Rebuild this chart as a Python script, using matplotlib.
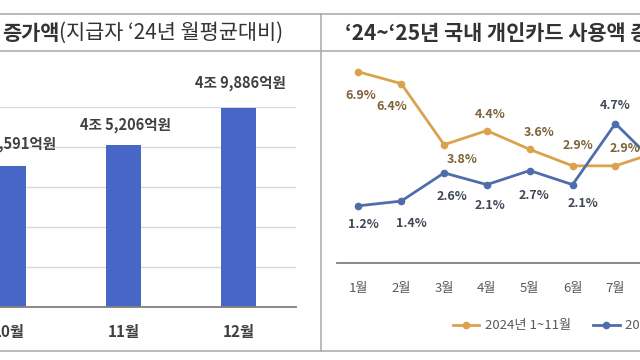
import matplotlib
matplotlib.use("Agg")
import matplotlib.pyplot as plt
from matplotlib.lines import Line2D

plt.rcParams["font.family"] = ["Noto Sans CJK KR", "DejaVu Sans"]

# left panel: card spending increase vs '24 monthly average (억원)
bar_months = ["10월", "11월", "12월"]
bar_values = [42591, 45206, 49886]
bar_labels = ["4조 2,591억원", "4조 5,206억원", "4조 9,886억원"]

# right panel: growth of domestic personal card spending (%)
line_months = ["1월", "2월", "3월", "4월", "5월", "6월", "7월", "8월"]
growth_2024 = [6.9, 6.4, 3.8, 4.4, 3.6, 2.9, 2.9, 3.5]
growth_2025 = [1.2, 1.4, 2.6, 2.1, 2.7, 2.1, 4.7, 2.9]
series_names = ["2024년 1~11월", "2025년 1~11월"]

W, H = 640, 360
BAR_C, ORANGE, BLUE = "#4766C6", "#DBA24E", "#4F6DAA"
BORDER, GRID, AXIS = "#A8A8A8", "#D9D9D9", "#7F7F7F"


def fx(px):
    return px / W


def fy(py):
    return 1 - py / H


def box(l, t, r, b):
    return [fx(l), fy(b), (r - l) / W, (b - t) / H]


fig = plt.figure(figsize=(W / 100, H / 100), dpi=100)
fig.patch.set_facecolor("white")

# panel frame lines
for y in (14, 51, 351):
    fig.add_artist(Line2D([0, 1], [fy(y), fy(y)], transform=fig.transFigure,
                          color=BORDER, lw=1.1))
fig.add_artist(Line2D([fx(321), fx(321)], [fy(14), fy(351)], transform=fig.transFigure,
                      color=BORDER, lw=1.1))

# ---------------------------------------------------------------- bar panel
ax = fig.add_axes(box(-49, 107, 296, 307))
xb = range(len(bar_values))
ax.bar(xb, bar_values, width=0.3, color=BAR_C, zorder=2)
ax.set_xlim(-0.5, 2.5)
ax.set_ylim(25000, 50000)
ax.set_yticks(range(30000, 50001, 5000))
ax.yaxis.grid(True, color=GRID, lw=1.0)
ax.set_axisbelow(True)
ax.tick_params(axis="y", length=0, labelleft=False)
ax.set_xticks(list(xb), bar_months)
ax.tick_params(axis="x", length=0, pad=12, labelsize=11, labelcolor="#404040")
for t in ax.get_xticklabels():
    t.set_fontweight("bold")
for s in ("top", "left", "right"):
    ax.spines[s].set_visible(False)
ax.spines["bottom"].set_color(AXIS)
ax.spines["bottom"].set_linewidth(1.3)
for i, (v, lab) in enumerate(zip(bar_values, bar_labels)):
    dy = (22, 20, 25)[i]
    ax.annotate(lab, (i, v), xytext=(2, dy), textcoords="offset pixels",
                ha="center", va="center", fontsize=10.5, weight="bold",
                color="#404040", annotation_clip=False)

t1 = fig.text(fx(2), fy(33), "증가액", fontsize=15, weight="bold",
              va="center", color="#333333")
fig.canvas.draw()
bb = t1.get_window_extent()
fig.text(bb.x1 / W, fy(33), "(지급자 ‘24년 월평균대비)", fontsize=15,
         va="center", color="#333333")

# --------------------------------------------------------------- line panel
ax2 = fig.add_axes(box(337, 55, 337 + 8 * 42.83, 263))
xm = range(1, len(line_months) + 1)
l24, = ax2.plot(xm, growth_2024, color=ORANGE, lw=2.0, marker="o", ms=4.5)
l25, = ax2.plot(xm, growth_2025, color=BLUE, lw=2.0, marker="o", ms=4.5)
ax2.set_xlim(0.5, len(line_months) + 0.5)
ax2.set_ylim((234 - 263) / 23.5, (234 - 55) / 23.5)
ax2.set_yticks([])
ax2.set_xticks(list(xm), line_months)
ax2.tick_params(axis="x", length=0, pad=14, labelsize=9.5, labelcolor="#595959")
for s in ("top", "left", "right"):
    ax2.spines[s].set_visible(False)
ax2.spines["bottom"].set_color(AXIS)
ax2.spines["bottom"].set_linewidth(1.3)

off24 = [(2, -24), (-9, -23), (18, -15), (3, 16), (9, 17), (5, 20), (10, 17), (0, 17)]
off25 = [(5, -19), (10, -22), (8, -24), (3, -21), (4, -25), (10, -19), (0, 18), (0, -20)]
for vals, offs, col in ((growth_2024, off24, "#7D6238"), (growth_2025, off25, "#3F4656")):
    for m, v, (dx, dy) in zip(xm, vals, offs):
        ax2.annotate(f"{v:.1f}%", (m, v), xytext=(dx, dy), textcoords="offset pixels",
                     ha="center", va="center", fontsize=9, weight="bold", color=col,
                     annotation_clip=False)

fig.text(fx(345), fy(33), "‘24~‘25년 국내 개인카드 사용액 증가율", fontsize=15,
         weight="bold", va="center", color="#333333")

fig.legend([l24, l25], series_names, loc="center left",
           bbox_to_anchor=(fx(453), fy(326)), ncol=2, frameon=False, fontsize=9.5,
           handlelength=2.0, handletextpad=0.4, columnspacing=1.7, borderpad=0,
           borderaxespad=0, labelcolor="#595959")

fig.savefig("out.png", dpi=100)
